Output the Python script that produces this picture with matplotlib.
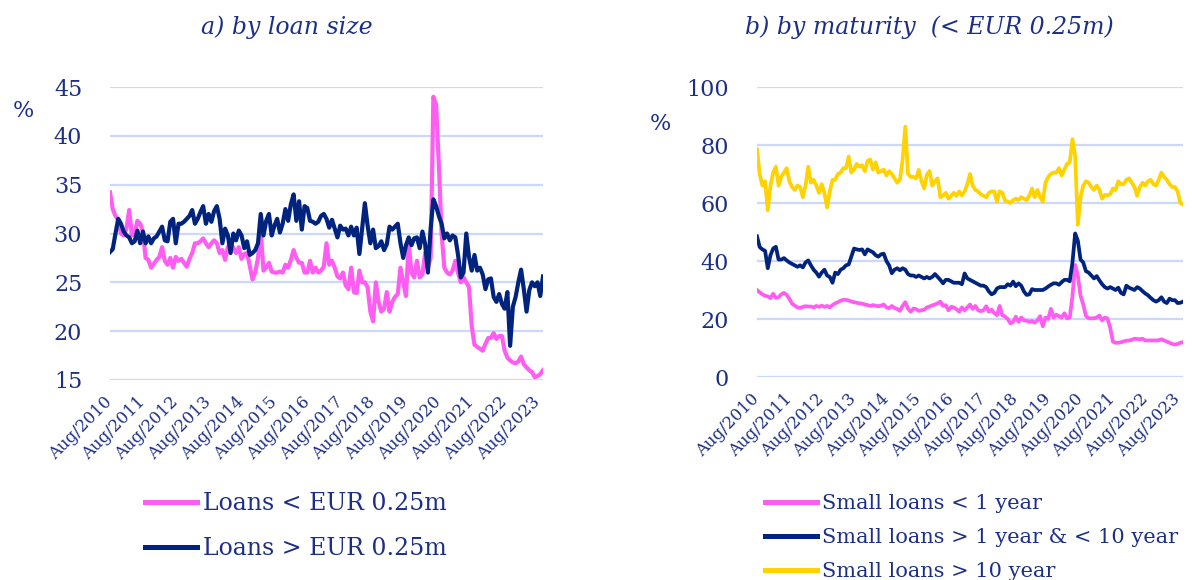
import matplotlib
matplotlib.use('Agg')
import matplotlib.pyplot as plt

# ---------------- data (monthly, Aug 2010 - Oct 2023) ----------------
tick_labels = ['Aug/2010', 'Aug/2011', 'Aug/2012', 'Aug/2013', 'Aug/2014', 'Aug/2015',
               'Aug/2016', 'Aug/2017', 'Aug/2018', 'Aug/2019', 'Aug/2020', 'Aug/2021',
               'Aug/2022', 'Aug/2023']

loans_small = [
    34.2, 32.5, 31.8, 31.4, 30.0, 29.8, 30.5, 32.4, 29.8, 30.0, 31.3, 31.0,
    30.2, 27.5, 27.3, 26.5, 26.9, 27.3, 27.6, 28.6, 27.2, 26.8, 27.5, 26.5,
    27.6, 27.2, 27.4, 27.0, 26.6, 27.4, 28.0, 29.0, 29.0, 29.2, 29.5, 29.0,
    28.6, 29.0, 29.3, 29.0, 28.0, 28.3, 27.3, 28.6, 29.1, 28.5, 28.0, 28.6,
    27.4, 27.9, 28.0, 26.7, 25.3, 26.0, 27.5, 30.2, 26.2, 26.5, 27.0, 26.1,
    26.0, 26.0, 26.1, 26.0, 26.8, 26.5, 27.3, 28.3, 27.5, 27.0, 27.0, 26.0,
    26.0, 27.2, 26.0, 26.5, 26.0, 26.2, 26.6, 29.0, 26.8, 27.2, 26.5, 25.6,
    25.4, 26.0, 24.7, 24.3, 26.5, 24.0, 23.9, 26.2, 25.0, 25.0, 24.5, 22.0,
    21.0, 25.0, 23.0, 22.0, 22.3, 24.0, 22.0, 23.0, 23.5, 23.8, 26.5, 25.0,
    23.6, 29.0, 26.0, 25.5, 27.2, 25.5, 25.8, 28.0, 26.5, 27.5, 44.0, 43.2,
    37.0, 30.0, 26.5, 26.0, 25.8, 26.2, 27.2, 26.0, 25.0, 25.5, 25.0, 24.5,
    20.5, 18.6, 18.4, 18.2, 18.0, 18.7, 19.3, 19.3, 19.8, 19.2, 19.5, 19.5,
    18.0, 17.3, 17.0, 16.8, 16.7, 16.9, 17.4, 16.6, 16.3, 16.0, 15.8, 15.3,
    15.4, 15.6, 16.0]

loans_large = [
    28.1, 28.4, 30.0, 31.5, 31.0, 30.2, 29.8, 29.6, 29.0, 29.2, 30.3, 29.0,
    30.2, 29.0, 29.7, 29.0, 29.5, 29.7, 30.2, 30.7, 29.3, 29.2, 31.2, 31.5,
    29.0, 31.0, 31.0, 31.2, 31.5, 31.8, 32.4, 31.0, 31.5, 32.2, 32.8, 31.0,
    32.0, 31.2, 32.3, 32.8, 31.5, 29.0, 30.5, 29.8, 28.0, 30.0, 29.3, 30.3,
    29.8, 28.5, 29.2, 27.8, 28.0, 28.3, 29.0, 32.0, 29.8, 31.3, 32.0, 29.8,
    30.8, 31.5, 30.1, 31.0, 32.5, 31.3, 33.0, 34.0, 31.3, 33.3, 30.4, 32.8,
    32.6, 31.3, 31.2, 31.0, 31.2, 31.8, 32.0, 31.5, 30.6, 31.4, 30.5, 29.6,
    30.8, 30.4, 30.5, 29.8, 30.7, 29.8, 30.6, 27.9, 30.5, 33.1, 30.8, 29.0,
    30.4, 28.5, 28.7, 29.2, 28.3, 28.9, 30.7, 30.4, 30.7, 31.0, 29.0, 27.5,
    28.8, 29.6, 28.8, 29.5, 29.6, 28.5, 30.2, 28.9, 26.0, 30.5, 33.5, 32.8,
    31.8, 31.0, 29.5, 30.0, 29.3, 29.8, 29.6, 27.8, 25.5, 26.0, 30.0, 27.6,
    26.2, 27.8, 26.2, 26.5, 25.8, 24.3, 25.3, 25.4, 23.5, 23.0, 23.8, 22.8,
    22.3, 24.0, 18.5, 22.5, 23.5, 25.0, 26.3, 24.3, 22.0, 24.2, 25.0, 24.6,
    25.0, 23.6, 25.6]

small_lt_1y = [
    30.0, 29.2, 28.5, 28.0, 27.8, 27.2, 28.7, 27.3, 27.5, 28.5, 29.0, 28.3,
    27.0, 25.3, 24.6, 24.0, 23.8, 24.2, 24.4, 24.3, 24.3, 24.0, 24.5, 24.2,
    24.6, 24.2, 24.5, 24.0, 24.8, 25.4, 25.8, 26.3, 26.6, 26.6, 26.4, 26.0,
    25.8, 25.6, 25.4, 25.3, 25.0, 24.8, 24.5, 24.8, 24.6, 24.4, 24.6, 25.0,
    24.0, 23.7, 24.5, 23.8, 23.5, 22.8, 24.5, 25.8, 23.6, 22.5, 23.6, 23.4,
    22.8, 23.0, 23.2, 24.0, 24.3, 24.7, 25.0, 25.4, 26.0, 24.5, 24.8, 23.0,
    24.2, 24.0, 23.4, 22.5, 24.0, 23.0, 24.0, 25.0, 23.5, 24.5, 23.0, 22.7,
    23.0, 24.4, 22.5, 23.2, 22.0, 21.3, 24.5, 21.3, 20.8, 20.0, 18.5, 19.0,
    20.8, 19.0, 20.5, 19.5, 19.4, 19.0, 19.3, 18.7, 19.5, 21.0, 17.5, 20.5,
    20.0, 23.5, 20.5, 21.5, 21.0, 20.5, 22.0, 20.2, 20.5, 28.0, 38.6, 35.0,
    28.0, 25.0, 21.0, 20.3, 20.2, 20.3, 20.5, 21.2, 19.5, 20.5, 20.2, 17.0,
    12.2, 11.8, 11.8, 12.0, 12.3, 12.5, 12.6, 12.8, 13.2, 13.1, 13.0, 13.2,
    12.6, 12.6, 12.6, 12.6, 12.6, 12.7, 13.0, 12.6, 12.2, 11.8, 11.4, 11.2,
    11.4, 11.8, 12.0]

small_1_10y = [
    48.5, 44.8, 44.0, 43.5, 37.5, 42.0, 44.3, 44.9, 40.5, 40.5, 41.0, 40.2,
    39.5, 39.0, 38.5, 38.0, 38.5, 37.8, 39.5, 40.2, 38.5, 37.0, 36.0, 34.6,
    36.0, 37.0, 35.0, 34.5, 32.5, 36.0, 35.5, 37.0, 37.5, 38.5, 38.8, 41.5,
    44.3, 44.0, 43.8, 44.0, 42.3, 44.0, 43.5, 43.0, 42.0, 41.5, 42.3, 42.5,
    40.0, 38.5, 35.8, 37.0, 37.5, 36.8, 37.5, 37.0, 35.5, 35.0, 35.0, 34.5,
    35.0, 34.5, 34.0, 34.5, 34.0, 34.5, 35.5, 34.5, 33.5, 32.3, 33.5, 33.5,
    33.0, 32.5, 32.5, 32.5, 32.0, 35.7, 34.0, 33.5, 33.0, 32.5, 32.0, 31.5,
    31.5, 31.0, 29.5, 28.5, 29.0, 30.5, 31.0, 31.0, 31.0, 32.0, 31.5, 32.9,
    31.3, 32.3, 31.5, 29.5, 28.3, 28.5, 30.3, 30.0, 30.0, 30.0, 30.0, 30.5,
    31.2, 31.8, 32.3, 32.3, 31.8, 32.7, 33.5, 33.5, 33.0, 39.5, 49.5, 47.0,
    40.5, 39.5, 36.5, 36.0, 35.0, 34.0, 34.8, 33.3, 32.0, 31.0, 30.5, 31.0,
    30.5, 30.0, 30.8, 29.0, 28.5, 31.5, 30.8, 30.4, 30.0, 31.0, 30.5, 29.6,
    28.8, 28.2, 27.3, 26.5, 26.0, 26.5, 27.5, 26.0, 25.5, 27.0, 26.5, 26.5,
    25.5, 25.6, 26.0]

small_gt_10y = [
    78.5, 70.0, 66.0, 67.5, 57.5, 66.0, 70.5, 72.5, 66.0, 69.0, 70.5, 72.0,
    67.5, 65.5, 64.5, 66.0, 65.5, 62.0, 66.0, 72.5, 67.0, 68.0, 66.0, 63.5,
    66.5, 63.5, 58.5, 64.0, 68.0, 68.0, 70.0, 70.5, 72.0, 72.0, 76.0, 70.5,
    71.5, 73.5, 72.5, 73.0, 71.0, 74.5, 75.0, 71.5, 74.0, 70.5, 71.0, 71.5,
    69.5, 71.0, 70.0, 68.5, 67.0, 68.0, 75.0, 86.3, 70.0, 69.0, 69.0, 68.5,
    71.4, 67.5, 65.0, 69.8, 71.0, 66.0, 67.5, 68.5, 62.0, 62.5, 63.5, 61.5,
    62.5, 63.5, 62.5, 64.0, 62.6, 64.0, 66.5, 70.0, 66.0, 64.5, 64.0, 63.0,
    62.5, 62.0, 63.5, 64.0, 64.0, 60.5, 64.0, 63.5, 60.8, 60.5, 60.0, 61.0,
    61.5, 61.0, 62.0, 61.5, 61.0, 62.5, 65.0, 62.0, 64.5, 62.0, 60.5, 67.0,
    69.0, 70.0, 70.5, 70.5, 72.0, 69.5, 71.5, 73.5, 74.0, 82.0, 76.0, 52.5,
    62.0, 66.0, 67.5, 67.0, 65.5, 64.5, 66.0, 64.5, 61.5, 62.8, 62.6, 63.0,
    65.0, 64.5, 67.5, 66.5, 66.5, 68.0, 68.5, 67.0, 65.5, 62.5, 65.5, 67.0,
    66.0, 67.5, 68.0, 66.5, 66.0, 68.0, 70.5, 69.0, 68.0, 66.5, 65.5, 65.5,
    64.0, 60.0, 59.5]

# ---------------- style ----------------
plt.rcParams['font.family'] = ['DejaVu Serif']
TXT = '#1c2f85'
PINK = '#ff5cf2'
NAVY = '#00237e'
YEL = '#ffd200'
GRID = '#cbd8fa'

W, H = 1192, 580
fig = plt.figure(figsize=(W / 100, H / 100), dpi=100)
ax1 = fig.add_axes([110 / W, 1 - 380 / H, 433 / W, 293 / H])
ax2 = fig.add_axes([757 / W, 1 - 377 / H, 426 / W, 290 / H])

n = len(loans_small)
x = list(range(n))

ax1.plot(x, loans_small, color=PINK, lw=3.0, label='Loans < EUR 0.25m', solid_joinstyle='round')
ax1.plot(x, loans_large, color=NAVY, lw=3.0, label='Loans > EUR 0.25m', solid_joinstyle='round')
ax1.set_ylim(15, 45)
ax1.set_yticks(range(15, 46, 5))

ax2.plot(x, small_lt_1y, color=PINK, lw=2.7, label='Small loans < 1 year', solid_joinstyle='round')
ax2.plot(x, small_1_10y, color=NAVY, lw=2.7, label='Small loans > 1 year & < 10 year', solid_joinstyle='round')
ax2.plot(x, small_gt_10y, color=YEL, lw=2.7, label='Small loans > 10 year', solid_joinstyle='round')
ax2.set_ylim(0, 100)
ax2.set_yticks(range(0, 101, 20))

for ax in (ax1, ax2):
    ax.set_xlim(0, n - 1)
    for s in ax.spines.values():
        s.set_visible(False)
    ax.yaxis.grid(True, color=GRID, lw=1.6)
    ax.set_axisbelow(True)
    ax.tick_params(axis='both', length=0, colors=TXT)
    ax.tick_params(axis='y', labelsize=16, pad=20)
    ax.set_xticks(range(0, n, 12))
    ax.set_xticklabels(tick_labels, rotation=45, ha='right', va='center',
                       rotation_mode='anchor', fontsize=12, color=TXT)
    ax.tick_params(axis='x', pad=14)

fig.text(287 / W, 1 - 27 / H, 'a) by loan size', ha='center', va='center',
         style='italic', fontsize=17, color=TXT)
fig.text(929 / W, 1 - 27 / H, 'b) by maturity  (< EUR 0.25m)', ha='center', va='center',
         style='italic', fontsize=17, color=TXT)
fig.text(23 / W, 1 - 111 / H, '%', ha='center', va='center', fontsize=16, color=TXT)
fig.text(660 / W, 1 - 124 / H, '%', ha='center', va='center', fontsize=16, color=TXT)

ax1.legend(loc='upper left', bbox_to_anchor=(145 / W, 1 - 492 / H), bbox_transform=fig.transFigure,
           frameon=False, fontsize=17, handlelength=2.2, handletextpad=0.25,
           labelspacing=0.95, borderpad=0, borderaxespad=0, labelcolor=TXT)
ax2.legend(loc='upper left', bbox_to_anchor=(765 / W, 1 - 494 / H), bbox_transform=fig.transFigure,
           frameon=False, fontsize=15, handlelength=2.5, handletextpad=0.25,
           labelspacing=0.72, borderpad=0, borderaxespad=0, labelcolor=TXT)
for leg in (ax1.get_legend(), ax2.get_legend()):
    for ln in leg.get_lines():
        ln.set_linewidth(3.6)

fig.savefig('out.png', dpi=100)
